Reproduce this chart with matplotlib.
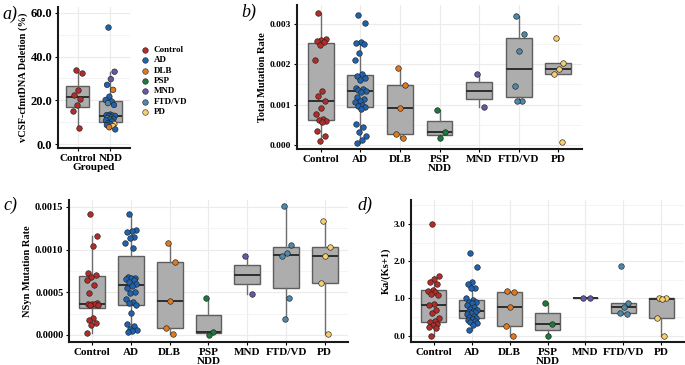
import numpy as np
import matplotlib
matplotlib.use("Agg")
import matplotlib.pyplot as plt
from matplotlib.lines import Line2D
from matplotlib.ticker import FormatStrFormatter, MultipleLocator

plt.rcParams["font.family"] = ["Liberation Serif", "DejaVu Serif"]
plt.rcParams["font.weight"] = "bold"
plt.rcParams["axes.labelweight"] = "bold"

# ---- data ----
legend_groups = ["Control", "AD", "DLB", "PSP", "MND", "FTD/VD", "PD"]
group_colors = ["#B22D2A", "#1F63B0", "#E07A22", "#1B7A3C", "#6559A6", "#4F88AA", "#F7CF6F"]

# a) vCSF-cfmtDNA deletion (%)
a_categories = ["Control", "NDD"]
a_control = [34.1, 32.6, 24.8, 22.5, 20.8, 17.8, 15.2, 7.5]
a_ndd = [53.3, 33.1, 29.7, 27.1, 24.8, 21.7, 20.2, 19.5, 18.7, 17.9, 13.5, 13.2,
         13.0, 12.9, 12.9, 12.3, 11.8, 11.5, 11.3, 10.8, 10.3, 9.5, 9.2, 9.0,
         8.7, 8.2, 7.7, 6.7]
a_ndd_groups = ["AD", "MND", "MND", "AD", "DLB", "AD", "AD", "AD", "FTD/VD", "AD",
                "AD", "AD", "FTD/VD", "AD", "AD", "PSP", "FTD/VD", "AD", "AD", "AD",
                "AD", "AD", "PD", "AD", "AD", "PD", "DLB", "AD"]

# b) total mutation rate (x 1e-3)
b_control = [3.26, 2.63, 2.60, 2.57, 2.55, 2.49, 2.10, 1.34, 1.21, 1.10, 0.92, 0.78,
             0.64, 0.62, 0.60, 0.58, 0.35, 0.23, 0.10]
b_ad = [3.22, 3.03, 2.56, 2.54, 2.50, 2.27, 2.10, 1.76, 1.70, 1.65, 1.62, 1.40, 1.38,
        1.36, 1.34, 1.32, 1.20, 1.14, 1.10, 1.06, 1.00, 0.97, 0.93, 0.90, 0.52, 0.44,
        0.31, 0.23, 0.12, 0.06]
b_dlb = [1.92, 1.49, 0.91, 0.26, 0.18]
b_psp = [0.87, 0.31, 0.17]
b_mnd = [1.76, 0.93]
b_ftd = [3.20, 2.75, 2.32, 1.46, 1.10, 1.08]
b_pd = [2.64, 2.02, 1.89, 1.76, 0.07]

# c) NSyn mutation rate (x 1e-3)
c_control = [1.415, 1.161, 1.044, 0.72, 0.70, 0.68, 0.643, 0.59, 0.487, 0.37, 0.365,
             0.362, 0.36, 0.355, 0.35, 0.195, 0.175, 0.144, 0.117, 0.019]
c_ad = [1.415, 1.228, 1.216, 1.208, 1.15, 1.138, 1.08, 1.013, 0.682, 0.67, 0.663,
        0.655, 0.643, 0.616, 0.593, 0.577, 0.55, 0.506, 0.495, 0.421, 0.39, 0.37,
        0.35, 0.261, 0.13, 0.105, 0.066, 0.058, 0.05, 0.04]
c_dlb = [1.075, 0.853, 0.40, 0.078, 0.008]
c_psp = [0.436, 0.039, 0.0]
c_mnd = [0.927, 0.479]
c_ftd = [1.507, 1.05, 0.958, 0.92, 0.43, 0.187]
c_pd = [1.34, 1.025, 0.92, 0.604, 0.012]

# d) Ka/(Ks+1)
d_control = [3.0, 1.6, 1.53, 1.45, 1.38, 1.23, 1.2, 1.16, 1.12, 1.09, 0.84, 0.82,
             0.69, 0.62, 0.47, 0.40, 0.36, 0.32, 0.28, 0.24, 0.2, 0.0]
d_ad = [2.21, 1.84, 1.43, 1.38, 1.29, 1.27, 1.02, 0.96, 0.91, 0.90, 0.87, 0.82,
        0.78, 0.72, 0.69, 0.66, 0.645, 0.63, 0.60, 0.575, 0.54, 0.51, 0.48, 0.45,
        0.42, 0.395, 0.375, 0.33, 0.29, 0.15]
d_dlb = [1.2, 1.16, 0.78, 0.26, 0.0]
d_psp = [0.89, 0.32, 0.0]
d_mnd = [1.0, 1.0]
d_ftd = [1.88, 0.87, 0.76, 0.6, 0.58]
d_pd = [1.02, 1.0, 0.985, 0.47, 0.0]

color_of = dict(zip(legend_groups, group_colors))

fig = plt.figure(figsize=(6.85, 3.65), dpi=100)


def px_axes(l, t, r, b):
    return fig.add_axes([l / 685, 1 - b / 365, (r - l) / 685, (b - t) / 365])


def jitter(n, width):
    # deterministic spread of points around the category centre
    k = np.arange(n)
    return ((k * 0.618034 + 0.31) % 1 - 0.5) * width


def panel(ax, cats, data, colors, box_w, ylim, major, minor, fmt, ylabel, xlabel,
          ysize, xsize=8):
    pos = np.arange(len(cats))
    ax.boxplot(data, positions=pos, widths=box_w, patch_artist=True,
               showfliers=False, showcaps=False, whis=1.5,
               boxprops=dict(facecolor="#ADADAD", edgecolor="#5E5E5E", lw=1.0),
               whiskerprops=dict(color="#6E6E6E", lw=1.0),
               medianprops=dict(color="#2E2E2E", lw=1.4), zorder=2)
    for i, (vals, col) in enumerate(zip(data, colors)):
        x = pos[i] + jitter(len(vals), 0.3)
        ax.scatter(x, vals, s=16, c=col, edgecolors="#222222", linewidths=0.45,
                   zorder=3)
    ax.set_xlim(-0.6, len(cats) - 0.4)
    ax.set_ylim(*ylim)
    ax.yaxis.set_major_locator(MultipleLocator(major))
    ax.yaxis.set_minor_locator(MultipleLocator(minor))
    ax.yaxis.set_major_formatter(FormatStrFormatter(fmt))
    ax.set_xticks(pos)
    ax.set_xticklabels(cats, fontsize=xsize, fontweight="bold")
    ax.tick_params(axis="y", labelsize=ysize, length=2.5, width=0.8, pad=1.5)
    ax.tick_params(axis="x", length=2.5, width=0.8, pad=1.5)
    ax.tick_params(axis="y", which="minor", length=0)
    ax.grid(True, which="major", color="#EBEBEB", lw=0.8, zorder=0)
    ax.grid(True, which="minor", axis="y", color="#F2F2F2", lw=0.6, zorder=0)
    ax.set_axisbelow(True)
    for s in ["top", "right"]:
        ax.spines[s].set_visible(False)
    for s in ["left", "bottom"]:
        ax.spines[s].set_linewidth(1.5)
        ax.spines[s].set_color("#1A1A1A")
    ax.set_ylabel(ylabel, fontsize=7.5, labelpad=2)
    ax.set_xlabel(xlabel, fontsize=8, labelpad=0)


full_cats = legend_groups

# a)
ax_a = px_axes(58, 7, 130, 148)
panel(ax_a, a_categories, [a_control, a_ndd],
      [color_of["Control"], [color_of[g] for g in a_ndd_groups]],
      0.7, (-1.8, 62.7), 20, 10, "%.1f", "vCSF-cfmtDNA Deletion (%)", "Grouped", 9)

# b)
ax_b = px_axes(297, 5, 582, 149)
b_data = [np.array(v) * 1e-3 for v in [b_control, b_ad, b_dlb, b_psp, b_mnd, b_ftd, b_pd]]
panel(ax_b, full_cats, b_data, group_colors, 0.65, (-0.0001, 0.00347),
      0.001, 0.0005, "%.3f", "Total Mutation Rate", "NDD", 6.8)

# c)
ax_c = px_axes(69, 200, 348, 342)
c_data = [np.array(v) * 1e-3 for v in [c_control, c_ad, c_dlb, c_psp, c_mnd, c_ftd, c_pd]]
panel(ax_c, full_cats, c_data, group_colors, 0.66, (-0.000082, 0.00158),
      0.0005, 0.00025, "%.4f", "NSyn Mutation Rate", "NDD", 7.5)

# d)
ax_d = px_axes(411, 200, 684, 342)
d_data = [d_control, d_ad, d_dlb, d_psp, d_mnd, d_ftd, d_pd]
panel(ax_d, full_cats, d_data, group_colors, 0.66, (-0.17, 3.645),
      1.0, 0.5, "%.1f", "Ka/(Ks+1)", "NDD", 6.8)

# legend beside panel a
for i, g in enumerate(legend_groups):
    y = 1 - (50 + i * 10.3) / 365
    fig.add_artist(Line2D([145 / 685], [y], transform=fig.transFigure, marker="o",
                          ms=4, mfc=color_of[g], mec="#222222", mew=0.4, ls="none"))
    fig.text(154 / 685, y, g, fontsize=6.5, fontweight="bold", va="center", ha="left")

# panel letters
for lab, (x, y) in zip(["a)", "b)", "c)", "d)"],
                       [(2, 14), (241, 12), (3, 205), (357, 205)]):
    fig.text(x / 685, 1 - y / 365, lab, fontsize=13, fontstyle="italic",
             fontweight="normal", va="center", ha="left")

fig.savefig("out.png", dpi=100)
